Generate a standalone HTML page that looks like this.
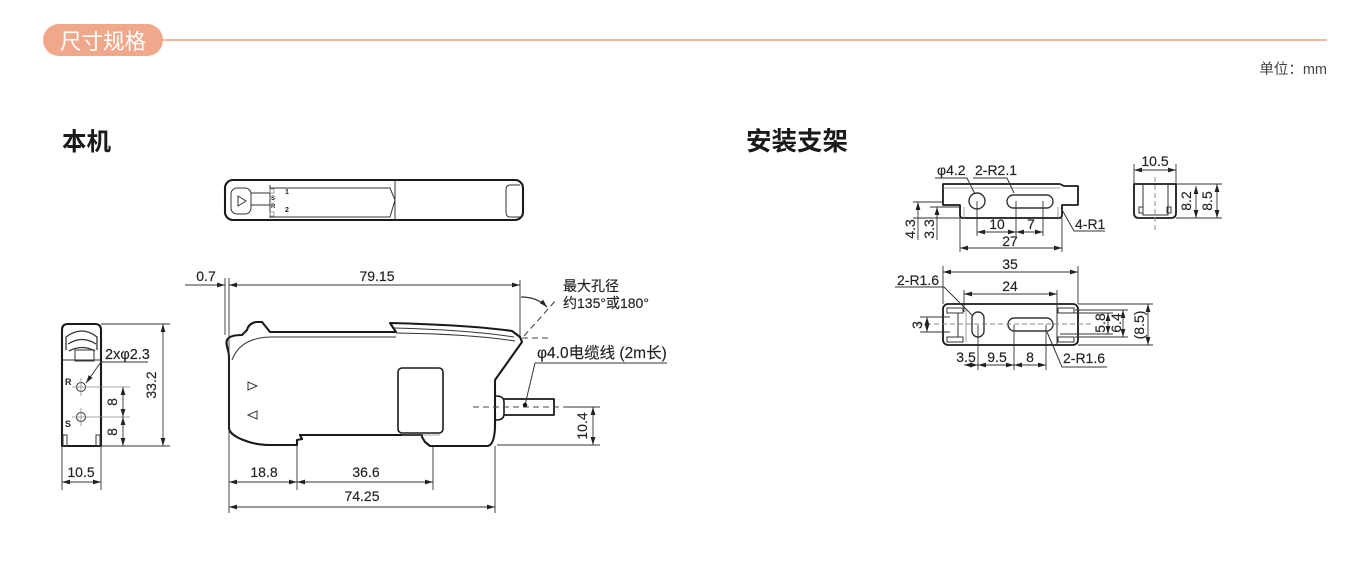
<!DOCTYPE html>
<html><head><meta charset="utf-8">
<style>
html,body{margin:0;padding:0;background:#fff;}
svg{display:block;}
text{font-family:"Liberation Sans","Noto Sans CJK SC",sans-serif;fill:#222;}
.o{fill:none;stroke:#1a1a1a;stroke-width:2.1;stroke-linejoin:round;}
.t{fill:none;stroke:#333;stroke-width:1;}
.d{fill:none;stroke:#333;stroke-width:0.9;}
.da{fill:none;stroke:#333;stroke-width:0.9;marker-start:url(#a);marker-end:url(#a);}
.de{fill:none;stroke:#333;stroke-width:0.9;marker-end:url(#a);}
.dash{fill:none;stroke:#444;stroke-width:1.1;stroke-dasharray:6 4;}
.g{fill:none;stroke:#888;stroke-width:0.8;}
.n{font-size:14px;stroke:#222;stroke-width:0.15;}
</style></head>
<body>
<svg width="1356" height="577" viewBox="0 0 1356 577" xmlns="http://www.w3.org/2000/svg">
<defs>
<marker id="a" viewBox="0 0 10 6" refX="10" refY="3" markerWidth="8" markerHeight="5" orient="auto-start-reverse" markerUnits="userSpaceOnUse"><path d="M0,0 L10,3 L0,6 Z" fill="#222"/></marker>
</defs>
<rect width="1356" height="577" fill="#fff"/>

<!-- header -->
<line x1="160" y1="40" x2="1327" y2="40" stroke="#F2B89E" stroke-width="2"/>
<rect x="43" y="24" width="120" height="32" rx="16" fill="#F0A88A"/>
<text x="103" y="49" text-anchor="middle" style="font-size:21.5px;fill:#fff;">尺寸规格</text>
<text x="1327" y="74" text-anchor="end" style="font-size:14.5px;fill:#444;">单位：mm</text>

<text x="62" y="150" style="font-size:24.5px;font-weight:bold;fill:#1a1a1a;">本机</text>
<text x="746" y="150" style="font-size:25.5px;font-weight:bold;fill:#1a1a1a;">安装支架</text>

<!-- ============ top view of device ============ -->
<rect x="225" y="180" width="298" height="40" rx="8" class="o"/>
<rect x="231" y="188" width="20" height="26" rx="6" class="t"/>
<path d="M238,196 L246,201 L238,206 Z" class="t"/>
<line x1="251" y1="193" x2="270" y2="193" class="t"/>
<line x1="251" y1="205" x2="270" y2="205" class="t"/>
<path d="M270,188 L390,188 L395,200 L390,217 L270,217" class="t"/>
<line x1="395" y1="180" x2="395" y2="220" class="t"/>
<line x1="270" y1="185" x2="270" y2="218" class="t"/>
<rect x="270" y="189" width="4" height="4" class="g"/>
<rect x="270" y="212" width="4" height="4" class="g"/>
<text x="285" y="194" style="font-size:7px;font-weight:bold;">1</text>
<text x="285" y="212" style="font-size:7px;font-weight:bold;">2</text>
<text x="271" y="200" style="font-size:6px;font-weight:bold;">S</text>
<text x="271" y="208" style="font-size:6px;font-weight:bold;">R</text>
<path d="M520,185 L510,185 Q506,185 506,190 L506,212 Q506,217 510,217 L520,217" class="t"/>

<!-- ============ front view (left) ============ -->
<path d="M62,446 L62,330 Q62,324 68,324 L95,324 Q101,324 101,330 L101,446 Z" class="o"/>
<line x1="62" y1="360" x2="101" y2="360" class="t"/>
<path d="M66,350 L66,337 Q82,325 97,337 L97,350" class="t" style="stroke-width:1.3"/>
<path d="M68,344 Q82,335 96,344" class="t" style="stroke-width:1.3"/>
<path d="M69,351 Q82,344 95,351" class="t" style="stroke-width:1.3"/>
<rect x="75" y="350" width="19" height="11" class="t"/>
<rect x="63" y="435" width="4" height="11" class="t"/>
<rect x="96" y="435" width="4" height="11" class="t"/>
<circle cx="81" cy="387" r="4.5" class="t"/>
<circle cx="81" cy="417" r="4.5" class="t"/>
<line x1="72" y1="387" x2="130" y2="387" class="g"/>
<line x1="81" y1="378" x2="81" y2="396" class="g"/>
<line x1="72" y1="417" x2="130" y2="417" class="g"/>
<line x1="81" y1="408" x2="81" y2="426" class="g"/>
<text x="65" y="385" style="font-size:9px;font-weight:bold;">R</text>
<text x="65" y="427" style="font-size:9px;font-weight:bold;">S</text>
<polyline points="148,362 101,362 86,383" class="de"/>
<text x="105" y="359" class="n" style="font-size:14.5px;">2xφ2.3</text>
<!-- 33.2 -->
<line x1="101" y1="324" x2="170" y2="324" class="d"/>
<line x1="101" y1="446" x2="170" y2="446" class="d"/>
<line x1="163" y1="324" x2="163" y2="446" class="da"/>
<text transform="translate(151,385) rotate(-90)" text-anchor="middle" dominant-baseline="central" class="n">33.2</text>
<!-- 8 8 -->
<line x1="123" y1="387" x2="123" y2="417" class="da"/>
<line x1="123" y1="417" x2="123" y2="446" class="da"/>
<text transform="translate(112,402) rotate(-90)" text-anchor="middle" dominant-baseline="central" class="n">8</text>
<text transform="translate(112,432) rotate(-90)" text-anchor="middle" dominant-baseline="central" class="n">8</text>
<!-- 10.5 -->
<line x1="62" y1="446" x2="62" y2="490" class="d"/>
<line x1="101" y1="446" x2="101" y2="490" class="d"/>
<line x1="62" y1="482" x2="101" y2="482" class="da"/>
<text x="81" y="477" text-anchor="middle" class="n">10.5</text>

<!-- ============ main side view ============ -->
<path d="M229,428 L229,357 C229,350 225,344 227,340 C229,336 236,335 242,335 L247,330 C248,326 251,323 256,322 L262,322 L270,332 L396,332 L390,323 Q470,325 512,331 L520,337 L522,342 L495,380 L495,428 Q494,446 487,446 L430,446 L425,442 L422,437 L422,435 L300,435 L302,439 L297,440 L297,445 L270,445 C250,445 229,436 229,428 Z" class="o"/>
<path d="M270,337 L396,337" class="t"/>
<path d="M270,337 Q240,338 232,360" class="t"/>
<path d="M394,328 Q470,330 514,337" class="t"/>
<path d="M396,333 Q470,334 515,341" class="t"/>
<rect x="398" y="368" width="45" height="65" rx="4" class="o" style="stroke-width:1.6"/>
<line x1="402" y1="435" x2="440" y2="435" class="g"/>
<path d="M248,382 L257,386 L248,390 Z" class="t"/>
<path d="M257,411 L248,415 L257,419 Z" class="t"/>
<!-- cable -->
<path d="M496,396 Q504,396 504,402 L504,414 Q504,420 496,420" class="o" style="stroke-width:1.6"/>
<path d="M504,399 L554,399 L554,415 L504,415" class="o" style="stroke-width:1.8"/>
<line x1="473" y1="407" x2="565" y2="407" class="dash"/>
<line x1="535" y1="363" x2="525" y2="405" class="t"/>
<circle cx="525" cy="405" r="2.2" fill="#111"/>
<line x1="535" y1="363" x2="667" y2="363" class="t"/>
<text x="537" y="358" style="font-size:15.5px;stroke:#222;stroke-width:0.15;">φ4.0电缆线 (2m长)</text>
<!-- 10.4 -->
<line x1="565" y1="407" x2="600" y2="407" class="d"/>
<line x1="497" y1="445" x2="600" y2="445" class="d"/>
<line x1="593" y1="407" x2="593" y2="445" class="da"/>
<text transform="translate(582,426) rotate(-90)" text-anchor="middle" dominant-baseline="central" class="n">10.4</text>
<!-- angle -->
<line x1="522" y1="338" x2="551" y2="338" class="dash"/>
<line x1="524" y1="336" x2="557" y2="299" class="dash"/>
<path d="M521,297 Q537,297 547,307" class="de" style="stroke-width:1.2"/>
<text x="563" y="291" style="font-size:14px;stroke:#222;stroke-width:0.15;">最大孔径</text>
<text x="563" y="308" style="font-size:14px;stroke:#222;stroke-width:0.15;">约135°或180°</text>
<!-- top dims -->
<line x1="225" y1="278" x2="225" y2="335" class="d"/>
<line x1="229" y1="278" x2="229" y2="513" class="d"/>
<line x1="520" y1="280" x2="520" y2="336" class="d"/>
<line x1="185" y1="285" x2="225" y2="285" class="de"/>
<line x1="229" y1="285" x2="520" y2="285" class="da"/>
<text x="206" y="281" text-anchor="middle" class="n">0.7</text>
<text x="377" y="281" text-anchor="middle" class="n">79.15</text>
<!-- bottom dims -->
<line x1="297" y1="446" x2="297" y2="490" class="d"/>
<line x1="433" y1="446" x2="433" y2="490" class="d"/>
<line x1="495" y1="446" x2="495" y2="513" class="d"/>
<line x1="229" y1="482" x2="297" y2="482" class="da"/>
<line x1="297" y1="482" x2="433" y2="482" class="da"/>
<line x1="229" y1="507" x2="495" y2="507" class="da"/>
<text x="264" y="477" text-anchor="middle" class="n">18.8</text>
<text x="366" y="477" text-anchor="middle" class="n">36.6</text>
<text x="362" y="501" text-anchor="middle" class="n">74.25</text>

<!-- ============ bracket top view ============ -->
<path d="M943,184 L1060,184 L1064,186 L1078,186 L1078,205 L1062,205 L1062,215 Q1062,218 1059,218 L963,218 Q960,218 960,215 L960,205 L943,205 Z" class="o" style="stroke-width:1.8"/>
<line x1="943" y1="188" x2="1060" y2="188" class="g"/>
<line x1="964" y1="207" x2="964" y2="218" class="g"/>
<line x1="1058" y1="207" x2="1058" y2="218" class="g"/>
<circle cx="977" cy="201" r="8" class="t" style="stroke-width:1.4"/>
<rect x="1007" y="195" width="46" height="13" rx="6.5" class="t" style="stroke-width:1.4"/>
<polyline points="935,178 967,178 975,194" class="t"/>
<text x="937" y="175" class="n">φ4.2</text>
<polyline points="973,178 1007,178 1014,193" class="t"/>
<text x="975" y="175" class="n">2-R2.1</text>
<polyline points="1105,231 1074,231 1061,208" class="t"/>
<text x="1075" y="229" class="n">4-R1</text>
<!-- 4.3 3.3 -->
<line x1="913" y1="202" x2="943" y2="202" class="d"/>
<line x1="930" y1="207" x2="960" y2="207" class="d"/>
<line x1="913" y1="218" x2="960" y2="218" class="d"/>
<line x1="918" y1="240" x2="918" y2="202" class="de"/>
<line x1="937" y1="240" x2="937" y2="207" class="de"/>
<text transform="translate(910,229) rotate(-90)" text-anchor="middle" dominant-baseline="central" class="n">4.3</text>
<text transform="translate(929,229) rotate(-90)" text-anchor="middle" dominant-baseline="central" class="n">3.3</text>
<!-- 10 7 27 -->
<line x1="977" y1="201" x2="977" y2="236" class="d"/>
<line x1="1016" y1="201" x2="1016" y2="236" class="d"/>
<line x1="1043" y1="201" x2="1043" y2="236" class="d"/>
<line x1="977" y1="232" x2="1016" y2="232" class="da"/>
<line x1="1016" y1="232" x2="1043" y2="232" class="da"/>
<text x="997" y="229" text-anchor="middle" class="n">10</text>
<text x="1031" y="229" text-anchor="middle" class="n">7</text>
<line x1="960" y1="218" x2="960" y2="252" class="d"/>
<line x1="1062" y1="218" x2="1062" y2="252" class="d"/>
<line x1="960" y1="248" x2="1062" y2="248" class="da"/>
<text x="1010" y="246" text-anchor="middle" class="n">27</text>

<!-- ============ bracket end view ============ -->
<path d="M1134,184 L1176,184 L1176,213 Q1176,218 1171,218 L1139,218 Q1134,218 1134,213 Z" class="o" style="stroke-width:1.8"/>
<path d="M1143,184 L1143,215 L1168,215 L1168,184" class="t"/>
<rect x="1139" y="207" width="4" height="6" class="t"/>
<rect x="1167" y="207" width="4" height="6" class="t"/>
<line x1="1155" y1="177" x2="1155" y2="231" stroke="#888" stroke-width="1" stroke-dasharray="5 3"/>
<line x1="1134" y1="164" x2="1134" y2="184" class="d"/>
<line x1="1176" y1="164" x2="1176" y2="184" class="d"/>
<line x1="1134" y1="170" x2="1176" y2="170" class="da"/>
<text x="1155" y="166" text-anchor="middle" class="n">10.5</text>
<line x1="1176" y1="184" x2="1222" y2="184" class="d"/>
<line x1="1176" y1="218" x2="1222" y2="218" class="d"/>
<line x1="1196" y1="186" x2="1196" y2="218" class="da"/>
<line x1="1217" y1="184" x2="1217" y2="218" class="da"/>
<text transform="translate(1186,201) rotate(-90)" text-anchor="middle" dominant-baseline="central" class="n">8.2</text>
<text transform="translate(1207,201) rotate(-90)" text-anchor="middle" dominant-baseline="central" class="n">8.5</text>

<!-- ============ bracket bottom view ============ -->
<rect x="943" y="304" width="135" height="41" rx="5" class="o" style="stroke-width:1.8"/>
<rect x="947" y="308" width="16" height="5" class="t"/>
<rect x="947" y="337" width="16" height="5" class="t"/>
<line x1="958" y1="313" x2="958" y2="337" class="t"/>
<line x1="966" y1="308" x2="966" y2="342" class="g"/>
<rect x="1058" y="308" width="16" height="5" class="t"/>
<rect x="1058" y="337" width="16" height="5" class="t"/>
<line x1="1057" y1="304" x2="1057" y2="345" class="t"/>
<rect x="972" y="312" width="12" height="25" rx="6" class="t" style="stroke-width:1.4"/>
<rect x="1008" y="318" width="45" height="13" rx="6.5" class="t" style="stroke-width:1.4"/>
<line x1="918" y1="324" x2="1092" y2="324" stroke="#888" stroke-width="1" stroke-dasharray="5 3"/>
<!-- 35 24 -->
<line x1="943" y1="266" x2="943" y2="304" class="d"/>
<line x1="1078" y1="266" x2="1078" y2="304" class="d"/>
<line x1="943" y1="272" x2="1078" y2="272" class="da"/>
<text x="1010" y="269" text-anchor="middle" class="n">35</text>
<line x1="964" y1="290" x2="964" y2="312" class="d"/>
<line x1="1057" y1="290" x2="1057" y2="304" class="d"/>
<line x1="964" y1="294" x2="1057" y2="294" class="da"/>
<text x="1010" y="291" text-anchor="middle" class="n">24</text>
<polyline points="895,287 944,287 973,316" class="t"/>
<text x="897" y="285" class="n">2-R1.6</text>
<!-- 3 -->
<line x1="920" y1="317" x2="950" y2="317" class="d"/>
<line x1="920" y1="332" x2="950" y2="332" class="d"/>
<line x1="927" y1="317" x2="927" y2="332" class="da"/>
<text transform="translate(917,325) rotate(-90)" text-anchor="middle" dominant-baseline="central" class="n">3</text>
<!-- right dims -->
<line x1="1060" y1="313" x2="1113" y2="313" class="d"/>
<line x1="1060" y1="334" x2="1113" y2="334" class="d"/>
<line x1="1075" y1="310" x2="1128" y2="310" class="d"/>
<line x1="1075" y1="337" x2="1128" y2="337" class="d"/>
<line x1="1078" y1="304" x2="1153" y2="304" class="d"/>
<line x1="1078" y1="345" x2="1153" y2="345" class="d"/>
<line x1="1108" y1="313" x2="1108" y2="334" class="da"/>
<line x1="1123" y1="310" x2="1123" y2="337" class="da"/>
<line x1="1148" y1="304" x2="1148" y2="345" class="da"/>
<text transform="translate(1100,323) rotate(-90)" text-anchor="middle" dominant-baseline="central" class="n">5.8</text>
<text transform="translate(1116,323) rotate(-90)" text-anchor="middle" dominant-baseline="central" class="n">6.4</text>
<text transform="translate(1139,325) rotate(-90)" text-anchor="middle" dominant-baseline="central" class="n">(8.5)</text>
<!-- bottom dims -->
<line x1="978" y1="325" x2="978" y2="370" class="d"/>
<line x1="1014" y1="325" x2="1014" y2="370" class="d"/>
<line x1="1046" y1="325" x2="1046" y2="370" class="d"/>
<line x1="964" y1="365" x2="978" y2="365" class="da"/>
<line x1="978" y1="365" x2="1014" y2="365" class="da"/>
<line x1="1014" y1="365" x2="1046" y2="365" class="da"/>
<text x="966" y="362" text-anchor="middle" class="n">3.5</text>
<text x="997" y="362" text-anchor="middle" class="n">9.5</text>
<text x="1030" y="362" text-anchor="middle" class="n">8</text>
<polyline points="1047,332 1062,367 1107,367" class="t"/>
<text x="1063" y="363" class="n">2-R1.6</text>
</svg>
</body></html>
